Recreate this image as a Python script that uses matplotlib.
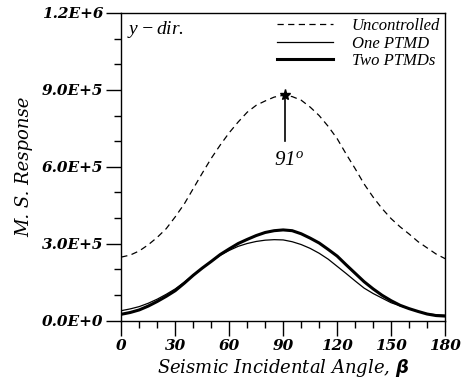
import math
import matplotlib
matplotlib.use('Agg')
import matplotlib.pyplot as plt
from matplotlib.ticker import MultipleLocator, FuncFormatter

# seismic incidence angle (deg) and maximum storey-shear response, y-direction
angles = [0, 5, 10, 15, 20, 25, 30, 35, 40, 45, 50, 55, 60, 65, 70, 75, 80, 85, 90,
          95, 100, 105, 110, 115, 120, 125, 130, 135, 140, 145, 150, 155, 160, 165,
          170, 175, 180]
uncontrolled = [2.48, 2.56, 2.72, 2.96, 3.25, 3.59, 4.05, 4.55, 5.15, 5.75, 6.33, 6.85,
                7.33, 7.75, 8.13, 8.40, 8.57, 8.72, 8.79, 8.74, 8.60, 8.33, 8.00, 7.58,
                7.10, 6.50, 5.93, 5.33, 4.82, 4.37, 3.98, 3.66, 3.38, 3.08, 2.84, 2.60,
                2.42]
one_ptmd = [0.39, 0.46, 0.55, 0.68, 0.84, 1.03, 1.24, 1.50, 1.78, 2.05, 2.31, 2.55,
            2.74, 2.90, 3.01, 3.09, 3.14, 3.16, 3.15, 3.08, 2.97, 2.82, 2.63, 2.40,
            2.12, 1.84, 1.55, 1.27, 1.06, 0.88, 0.70, 0.58, 0.47, 0.36, 0.27, 0.23,
            0.21]
two_ptmds = [0.25, 0.32, 0.42, 0.57, 0.75, 0.95, 1.17, 1.46, 1.77, 2.05, 2.31, 2.58,
             2.80, 3.01, 3.17, 3.32, 3.44, 3.51, 3.54, 3.51, 3.39, 3.22, 3.03, 2.78,
             2.52, 2.18, 1.85, 1.52, 1.24, 0.99, 0.78, 0.60, 0.47, 0.36, 0.26, 0.20,
             0.18]
scale = 1e5
peak_angle = 91
peak_value = 8.80

plt.rcParams['mathtext.fontset'] = 'custom'
plt.rcParams['mathtext.rm'] = 'Liberation Serif:italic'
plt.rcParams['mathtext.it'] = 'Liberation Serif:italic'

label_font = {'family': 'DejaVu Serif', 'style': 'italic', 'size': 13}


def sci(v, pos):
    # 3.0E+5 style labels
    if v == 0:
        return '0.0E+0'
    e = int(math.floor(math.log10(abs(v)) + 1e-9))
    return '%.1fE+%d' % (v / 10**e, e)


fig = plt.figure(figsize=(4.7, 3.89), dpi=100)
ax = fig.add_axes([0.258, 0.1756, 0.689, 0.791])

ax.plot(angles, [v*scale for v in uncontrolled], 'k', linestyle=(0, (5, 3.5)),
        linewidth=0.9, label='Uncontrolled')
ax.plot(angles, [v*scale for v in one_ptmd], 'k-', linewidth=0.9, label='One PTMD')
ax.plot(angles, [v*scale for v in two_ptmds], 'k-', linewidth=2.2, label='Two PTMDs')

# peak of the uncontrolled response
ax.plot([peak_angle, peak_angle], [7.0*scale, peak_value*scale], 'k-', linewidth=1.2)
ax.plot([peak_angle], [peak_value*scale], 'k*', markersize=8)
ax.text(peak_angle + 2, 6.3*scale, r'$91^o$', ha='center', va='center', fontsize=15)

ax.text(3, 11.35*scale, r'$y-dir.$', ha='left', va='center', fontsize=14)

ax.set_xlim(0, 180)
ax.set_ylim(0, 12*scale)
ax.xaxis.set_major_locator(MultipleLocator(30))
ax.xaxis.set_minor_locator(MultipleLocator(10))
ax.yaxis.set_major_locator(MultipleLocator(3*scale))
ax.yaxis.set_minor_locator(MultipleLocator(1*scale))
ax.yaxis.set_major_formatter(FuncFormatter(sci))
ax.tick_params(which='major', direction='out', length=11, width=1.0, pad=2)
ax.tick_params(which='minor', direction='out', length=5, width=1.0)
for lab in ax.get_xticklabels() + ax.get_yticklabels():
    lab.set_fontfamily('DejaVu Serif')
    lab.set_fontweight('bold')
    lab.set_fontstyle('italic')
    lab.set_fontsize(11)
for s in ax.spines.values():
    s.set_linewidth(1.0)

ax.set_xlabel(r'Seismic Incidental Angle, $\boldsymbol{\beta}$', **label_font, labelpad=3)
ax.set_ylabel('M. S. Response', **label_font, labelpad=6)

ax.legend(loc='upper right', frameon=False, handlelength=3.4, handletextpad=1.1,
          labelspacing=0.1, borderaxespad=0.1, borderpad=0.2,
          prop={'family': 'Liberation Serif', 'style': 'italic', 'size': 12})

fig.savefig('out.png', dpi=100)
